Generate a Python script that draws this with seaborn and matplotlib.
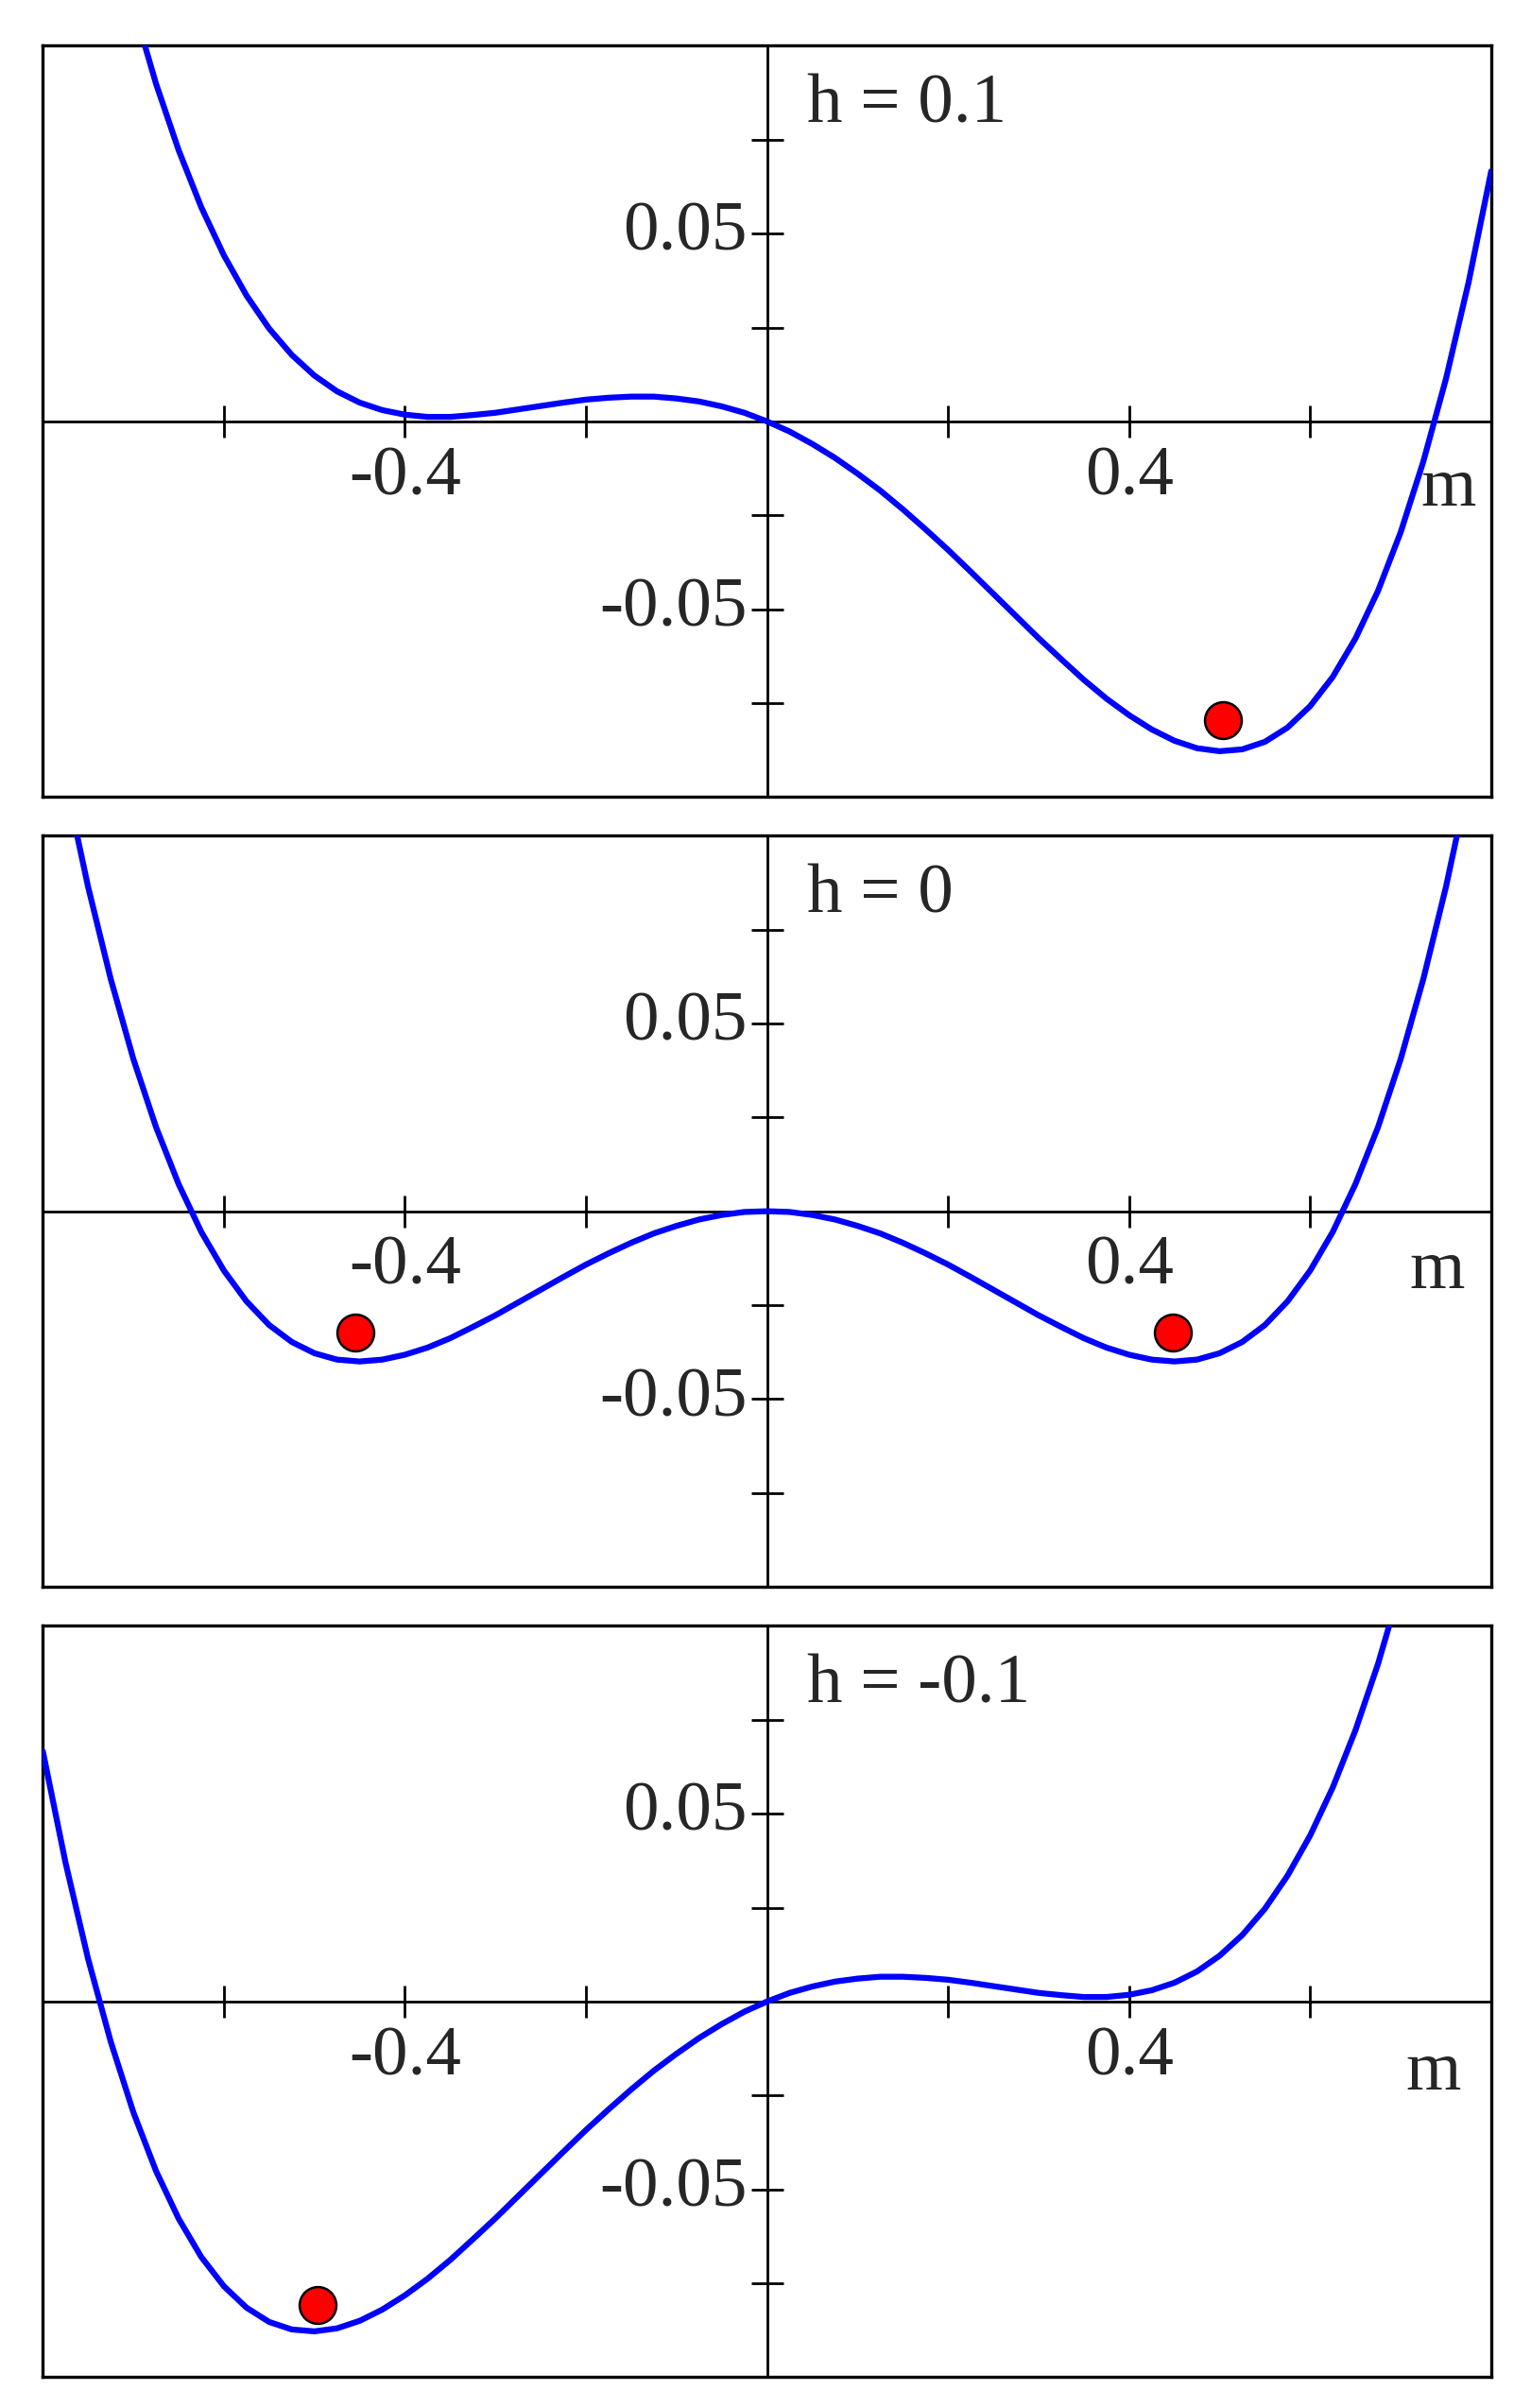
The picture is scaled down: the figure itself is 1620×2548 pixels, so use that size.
import matplotlib
matplotlib.use("Agg")
import matplotlib.pyplot as plt
import numpy as np
import pandas as pd
import seaborn as sns

# m grid (step 0.025)
m_values = [round(-0.8 + 0.025 * i, 3) for i in range(65)]

f_h_pos = [0.2266, 0.1920, 0.1613, 0.1343, 0.1105, 0.0899, 0.0722, 0.0570, 0.0442, 0.0335,
           0.0247, 0.0177, 0.0122, 0.0080, 0.0050, 0.0030, 0.0018, 0.0012, 0.0012, 0.0017,
           0.0023, 0.0032, 0.0041, 0.0050, 0.0058, 0.0063, 0.0066, 0.0066, 0.0061, 0.0053,
           0.0040, 0.0023, 0.0, -0.0027, -0.0060, -0.0097, -0.0139, -0.0184, -0.0234, -0.0287,
           -0.0342, -0.0400, -0.0459, -0.0518, -0.0577, -0.0633, -0.0688, -0.0738, -0.0782, -0.0820,
           -0.0850, -0.0870, -0.0878, -0.0873, -0.0853, -0.0815, -0.0758, -0.0680, -0.0578, -0.0451,
           -0.0295, -0.0107, 0.0113, 0.0370, 0.0666]

f_h_zero = [0.1466, 0.1145, 0.0863, 0.0618, 0.0405, 0.0224, 0.0072, -0.0055, -0.0158, -0.0240,
            -0.0303, -0.0348, -0.0378, -0.0395, -0.0400, -0.0395, -0.0382, -0.0363, -0.0338, -0.0308,
            -0.0277, -0.0243, -0.0209, -0.0175, -0.0142, -0.0112, -0.0084, -0.0059, -0.0039, -0.0022,
            -0.0010, -0.0002, 0.0, -0.0002, -0.0010, -0.0022, -0.0039, -0.0059, -0.0084, -0.0112,
            -0.0142, -0.0175, -0.0209, -0.0243, -0.0277, -0.0308, -0.0338, -0.0363, -0.0382, -0.0395,
            -0.0400, -0.0395, -0.0378, -0.0348, -0.0303, -0.0240, -0.0158, -0.0055, 0.0072, 0.0224,
            0.0405, 0.0618, 0.0863, 0.1145, 0.1466]

f_h_neg = [0.0666, 0.0370, 0.0113, -0.0107, -0.0295, -0.0451, -0.0578, -0.0680, -0.0758, -0.0815,
           -0.0853, -0.0873, -0.0878, -0.0870, -0.0850, -0.0820, -0.0782, -0.0738, -0.0688, -0.0633,
           -0.0577, -0.0518, -0.0459, -0.0400, -0.0342, -0.0287, -0.0234, -0.0184, -0.0139, -0.0097,
           -0.0060, -0.0027, 0.0, 0.0023, 0.0040, 0.0053, 0.0061, 0.0066, 0.0066, 0.0063,
           0.0058, 0.0050, 0.0041, 0.0032, 0.0023, 0.0017, 0.0012, 0.0012, 0.0018, 0.0030,
           0.0050, 0.0080, 0.0122, 0.0177, 0.0247, 0.0335, 0.0442, 0.0570, 0.0722, 0.0899,
           0.1105, 0.1343, 0.1613, 0.1920, 0.2266]

panel_titles = ["h = 0.1", "h = 0", "h = -0.1"]
curves = [f_h_pos, f_h_zero, f_h_neg]
dots_m = [[0.504], [-0.455, 0.448], [-0.497]]
dots_f = [[-0.0795], [-0.0324, -0.0324], [-0.0807]]
m_label_y = [-0.018, -0.016, -0.019]
m_label_x = [0.722, 0.71, 0.705]

x_major = [-0.4, 0.4]
x_minor = [-0.6, -0.2, 0.2, 0.6]
y_major = [-0.05, 0.05]
y_minor = [-0.075, -0.025, 0.025, 0.075]

sns.set_style("white")
plt.rcParams["font.family"] = ["Liberation Serif", "DejaVu Serif"]

fig = plt.figure(figsize=(16.2, 25.48), dpi=100)
bottoms = [0.669, 0.341, 0.0128]
fs = 54

for i in range(3):
    ax = fig.add_axes([0.028, bottoms[i], 0.946, 0.312])
    df = pd.DataFrame({"m": m_values, "f": curves[i]})
    ax.axhline(0, color="black", lw=2, zorder=1)
    ax.axvline(0, color="black", lw=2, zorder=1)
    sns.lineplot(data=df, x="m", y="f", ax=ax, color="#0000ff", lw=4.5, zorder=3, sort=False)
    # tick marks crossing the central axes
    ax.plot(x_major + x_minor, [0] * 6, ls="none", marker="|", ms=24, mew=2, color="black")
    ax.plot([0] * 6, y_major + y_minor, ls="none", marker="_", ms=24, mew=2, color="black")
    for xv in x_major:
        ax.text(xv, -0.0065, f"{xv:g}", ha="center", va="top", fontsize=fs)
    for yv in y_major:
        ax.text(-0.022, yv, f"{yv:g}", ha="right", va="center", fontsize=fs)
    ax.text(m_label_x[i], m_label_y[i], "m", ha="left", va="center", fontsize=fs)
    ax.text(0.044, 0.084, panel_titles[i], ha="left", va="center", fontsize=fs)
    ax.plot(dots_m[i], dots_f[i], ls="none", marker="o", ms=28, mfc="#ff0000", mec="black",
            mew=1.8, zorder=4)
    ax.set_xlim(-0.8, 0.8)
    ax.set_ylim(-0.1, 0.1)
    ax.set_xticks([])
    ax.set_yticks([])
    ax.set_xlabel("")
    ax.set_ylabel("")
    for s in ax.spines.values():
        s.set_color("black")
        s.set_linewidth(2.4)

fig.savefig("out.png", dpi=100)
